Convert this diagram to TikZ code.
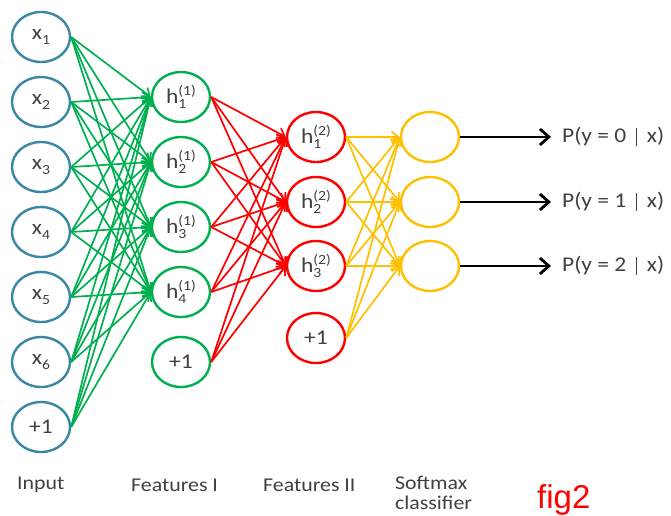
\documentclass[tikz,border=0pt]{standalone}
\usepackage{fontspec}
\setmainfont{Carlito}[FakeStretch=1.12]
\newfontfamily\arialfont{Liberation Sans}
\usetikzlibrary{shapes.geometric,arrows.meta}
\definecolor{inblue}{HTML}{3A87A3}
\definecolor{fgreen}{HTML}{00B050}
\definecolor{fred}{HTML}{FF0000}
\definecolor{fyellow}{HTML}{FFC000}
\definecolor{txtgray}{HTML}{404040}
\newcommand\xsub[1]{x\raisebox{-0.45ex}{\fontsize{14}{14}\selectfont #1}}
\newcommand\hsub[2]{h\rlap{\raisebox{-0.5ex}{\fontsize{14}{14}\selectfont #1}}\raisebox{0.8ex}{\fontsize{14}{14}\selectfont(#2)}}
\newcommand\condbar{\hspace{0.45em}\rule[-0.12em]{1.6pt}{0.82em}\hspace{0.45em}}
\tikzset{
  neuron/.style={ellipse, minimum width=58pt, minimum height=50pt, inner sep=0pt,
    line width=2.4pt, text=txtgray, font=\fontsize{21}{24}\selectfont},
  inneuron/.style={neuron, draw=inblue},
  gneuron/.style={neuron, draw=fgreen},
  rneuron/.style={neuron, draw=fred},
  yneuron/.style={neuron, draw=fyellow},
  conn/.style={line width=1.7pt, -{Straight Barb[length=7pt,width=11pt]}},
  outarrow/.style={line width=2.8pt, black, -{Straight Barb[length=9pt,width=16pt]}},
  plabel/.style={anchor=west, text=txtgray, font=\fontsize{21}{24}\selectfont, inner sep=0pt},
  layerlabel/.style={anchor=west, text=txtgray, font=\fontsize{19.5}{22}\selectfont, inner sep=0pt}
}
\begin{document}
\begin{tikzpicture}[x=1pt,y=-1pt]
\useasboundingbox (0,0) rectangle (671,515);
% input layer
\node[inneuron] (i1) at (41,37) {\xsub{1}};
\node[inneuron] (i2) at (41,102) {\xsub{2}};
\node[inneuron] (i3) at (41,167) {\xsub{3}};
\node[inneuron] (i4) at (41,232) {\xsub{4}};
\node[inneuron] (i5) at (41,297) {\xsub{5}};
\node[inneuron] (i6) at (41,362) {\xsub{6}};
\node[inneuron] (i7) at (41,427) {+1};
% features I
\node[gneuron] (a1) at (181,97) {\hsub{1}{1}};
\node[gneuron] (a2) at (181,162) {\hsub{2}{1}};
\node[gneuron] (a3) at (181,227) {\hsub{3}{1}};
\node[gneuron] (a4) at (181,292) {\hsub{4}{1}};
\node[gneuron] (a5) at (181,362) {+1};
% features II
\node[rneuron] (b1) at (316,137) {\hsub{1}{2}};
\node[rneuron] (b2) at (316,202) {\hsub{2}{2}};
\node[rneuron] (b3) at (316,266) {\hsub{3}{2}};
\node[rneuron] (b4) at (316,338) {+1};
% softmax
\node[yneuron] (s1) at (430,137) {};
\node[yneuron] (s2) at (430,202) {};
\node[yneuron] (s3) at (430,266) {};
% connections
\foreach \i in {1,...,7} \foreach \j in {1,...,4}
  \draw[conn, fgreen] (i\i.east) -- (a\j.west);
\foreach \i in {1,...,5} \foreach \j in {1,...,3}
  \draw[conn, fred] (a\i.east) -- (b\j.west);
\foreach \i in {1,...,4} \foreach \j in {1,...,3}
  \draw[conn, fyellow] (b\i.east) -- (s\j.west);
% outputs
\node[plabel] (p1) at (562,137) {P(y = 0\condbar x)};
\node[plabel] (p2) at (562,202) {P(y = 1\condbar x)};
\node[plabel] (p3) at (562,266) {P(y = 2\condbar x)};
\coordinate (e1) at (551,137);
\coordinate (e2) at (551,202);
\coordinate (e3) at (551,266);
\draw[outarrow] (s1.east) -- (e1);
\draw[outarrow] (s2.east) -- (e2);
\draw[outarrow] (s3.east) -- (e3);
% layer labels
\node[layerlabel] (l1) at (17,485) {Input};
\node[layerlabel] (l2) at (131,485) {Features I};
\node[layerlabel] (l3) at (263,485) {Features II};
\node[layerlabel] (l4) at (395,483) {Softmax};
\node[layerlabel] (l5) at (395,503) {classifier};
\node[anchor=base west, text=fred, font=\arialfont\fontsize{33}{36}\selectfont, inner sep=0pt] (fig) at (537,508) {fig2};
\end{tikzpicture}
\end{document}
